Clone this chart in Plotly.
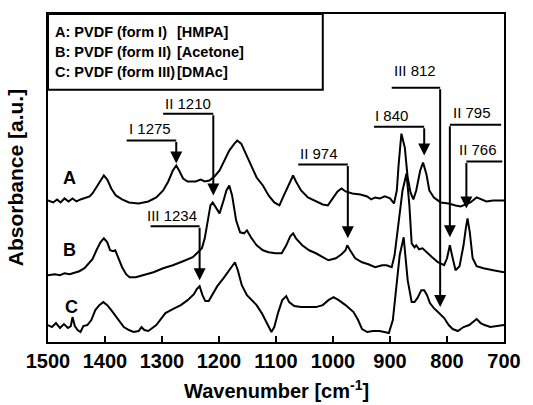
import plotly.graph_objects as go

# ---- spectra (wavenumber cm-1, absorbance in arbitrary offset units) ----
wn_A = [1500,1491,1484,1478,1471,1464,1457,1450,1443,1434,
        1427,1422,1415,1408,1402,1396,1389,1381,1370,1358,
        1341,1324,1310,1298,1289,1281,1275,1270,1263,1255,
        1241,1232,1225,1217,1208,1199,1191,1182,1173,1168,
        1161,1151,1141,1134,1123,1113,1103,1094,1087,1078,
        1070,1065,1056,1044,1030,1018,1009,1001,992,985,
        978,966,952,940,933,926,918,909,900,893,
        888,885,880,874,869,864,859,854,847,842,
        836,831,823,811,797,785,776,767,759,748,
        740,731,719,700]
abs_A = [142,140,143,140,144,141,144,141,143,145,
         146,149,155,162,167,163,154,147,143,140,
         139,141,145,152,161,172,177,172,164,161,
         161,163,161,162,166,172,182,192,199,202,
         199,187,174,165,157,147,140,137,146,158,
         167,161,152,145,141,138,137,144,151,154,
         151,149,148,146,143,145,144,146,144,139,
         152,177,209,195,165,150,143,152,172,180,
         168,152,145,140,139,137,136,138,140,145,
         143,141,142,142]

wn_B = [1500,1488,1479,1471,1462,1453,1445,1436,1427,1422,
        1415,1408,1402,1396,1391,1386,1382,1377,1370,1363,
        1357,1346,1332,1315,1298,1281,1263,1246,1237,1230,
        1225,1220,1215,1211,1206,1199,1192,1187,1182,1177,
        1170,1163,1156,1151,1144,1134,1123,1113,1101,1090,
        1082,1075,1070,1065,1054,1042,1030,1018,1008,995,
        985,978,975,970,961,949,938,926,914,906,
        897,892,885,878,871,866,862,857,854,849,
        843,836,826,816,805,800,795,790,785,778,
        771,767,764,760,755,748,736,719,700]
abs_B = [67,68,67,69,68,70,71,74,80,83,
         92,100,104,100,92,91,92,85,75,68,
         65,65,67,70,74,77,81,85,90,94,
         104,122,137,140,135,129,142,152,157,147,
         122,110,109,112,105,97,92,90,89,89,
         97,106,109,104,97,92,89,85,82,84,
         88,92,97,92,84,80,78,75,77,77,
         75,87,117,152,169,137,99,95,97,93,
         94,90,85,80,77,84,97,84,72,76,
         97,114,124,110,84,76,74,72,70]

wn_C = [1500,1493,1486,1479,1472,1465,1460,1457,1453,1448,
        1443,1438,1431,1424,1417,1410,1403,1396,1389,1381,
        1374,1367,1358,1350,1341,1336,1331,1324,1310,1294,
        1281,1267,1255,1244,1239,1234,1229,1224,1218,1211,
        1203,1192,1182,1175,1172,1167,1160,1151,1142,1134,
        1125,1116,1108,1103,1096,1089,1082,1077,1068,1056,
        1044,1030,1018,1008,999,990,978,964,956,949,
        940,930,918,909,902,895,888,883,876,869,
        862,857,852,845,840,835,830,823,814,805,
        797,790,781,771,761,755,748,741,734,724,
        710,700]
abs_C = [17,15,19,14,18,14,16,25,16,12,
         10,16,17,22,32,37,40,37,32,26,
         20,15,12,10,11,15,12,11,17,29,
         33,37,42,48,53,56,47,41,41,48,
         56,64,72,78,80,72,57,47,42,37,
         29,19,10,15,30,42,46,40,36,35,
         35,35,37,42,45,42,37,30,22,13,
         10,11,11,10,9,22,57,87,105,62,
         40,40,44,52,52,47,39,34,29,24,
         17,13,11,15,17,20,23,19,17,15,
         16,17]

curve_names = ["A", "B", "C"]
curve_label_wn = [1462, 1462, 1458]
curve_label_y = [165, 92, 35]

# ---- band assignments (arrow annotations) ----
ann_labels = ["I 1275", "II 1210", "III 1234", "II 974", "I 840", "III 812", "II 795", "II 766"]
ann_wn = [1275, 1210, 1234, 974, 840, 812, 795, 766]
ann_tip = [179, 147, 62, 104, 187, 35, 105, 134]
ann_line = [202, 229, 116, 178, 216, 255, 218, 181]
ann_end = [1362, 1298, 1320, 1061, 928, 897, 705, 703]
ann_text_wn = [1362, 1298, 1329, 1061, 930, 897, 793, 783]
ann_text_y = [214, 239, 127, 189, 227, 272, 230, 193]

legend_left = ["A: PVDF (form I)", "B: PVDF (form II)", "C: PVDF (form III)"]
legend_right = ["[HMPA]", "[Acetone]", "[DMAc]"]

x_ticks = [1500, 1400, 1300, 1200, 1100, 1000, 900, 800, 700]

FONT = "Liberation Sans, Arial, sans-serif"

fig = go.Figure()
for wn, ab in [(wn_A, abs_A), (wn_B, abs_B), (wn_C, abs_C)]:
    fig.add_trace(go.Scatter(x=wn, y=ab, mode="lines",
                             line=dict(color="black", width=2),
                             showlegend=False, hoverinfo="skip"))

annotations = []
shapes = []
for lab, w, tip, ly, end, tw, ty in zip(ann_labels, ann_wn, ann_tip, ann_line,
                                        ann_end, ann_text_wn, ann_text_y):
    shapes.append(dict(type="line", xref="x", yref="y", x0=end, x1=w, y0=ly, y1=ly,
                       line=dict(color="black", width=2)))
    annotations.append(dict(x=w, y=tip, ax=w, ay=ly, axref="x", ayref="y",
                            xref="x", yref="y", text="", showarrow=True,
                            arrowhead=2, arrowsize=1.2, arrowwidth=2,
                            arrowcolor="black", standoff=0))
    annotations.append(dict(x=tw, y=ty, xref="x", yref="y", text=lab,
                            showarrow=False, xanchor="left", yanchor="middle",
                            font=dict(family=FONT, size=15, color="black")))

for nm, cx, cy in zip(curve_names, curve_label_wn, curve_label_y):
    annotations.append(dict(x=cx, y=cy, xref="x", yref="y", text=nm,
                            showarrow=False, xanchor="center", yanchor="middle",
                            font=dict(family=FONT, size=18, color="black", weight="bold")))

# legend box
shapes.append(dict(type="rect", xref="paper", yref="paper", x0=0, x1=0.6026,
                   y0=0.769, y1=1, line=dict(color="black", width=2),
                   fillcolor="white", layer="above"))
leg_y = [0.945, 0.8845, 0.8237]
for l, r, yy in zip(legend_left, legend_right, leg_y):
    annotations.append(dict(x=0.012, y=yy, xref="paper", yref="paper", text=l,
                            showarrow=False, xanchor="left", yanchor="middle",
                            font=dict(family=FONT, size=14.5, color="black", weight="bold")))
    annotations.append(dict(x=0.2786, y=yy, xref="paper", yref="paper", text=r,
                            showarrow=False, xanchor="left", yanchor="middle",
                            font=dict(family=FONT, size=14.5, color="black", weight="bold")))

# axis titles
annotations.append(dict(x=0.5, y=-0.146, xref="paper", yref="paper",
                        text="Wavenumber [cm<sup>-1</sup>]", showarrow=False,
                        xanchor="center", yanchor="middle",
                        font=dict(family=FONT, size=20, color="black", weight="bold")))
annotations.append(dict(x=-0.072, y=0.5, xref="paper", yref="paper",
                        text="Absorbance [a.u.]", showarrow=False, textangle=-90,
                        xanchor="center", yanchor="middle",
                        font=dict(family=FONT, size=21, color="black", weight="bold")))

fig.update_layout(
    width=533, height=405,
    margin=dict(l=48, r=22, t=13, b=63),
    plot_bgcolor="white", paper_bgcolor="white",
    shapes=shapes, annotations=annotations,
    xaxis=dict(range=[1500, 700], tickvals=x_ticks,
               ticktext=[str(t) for t in x_ticks],
               ticks="inside", ticklen=6, tickwidth=2, tickcolor="black",
               showline=True, linecolor="black", linewidth=2, mirror=True,
               showgrid=False, zeroline=False,
               tickfont=dict(family=FONT, size=20, color="black", weight="bold")),
    yaxis=dict(range=[0, 329], showticklabels=False, ticks="",
               showline=True, linecolor="black", linewidth=2, mirror=True,
               showgrid=False, zeroline=False),
)

fig.write_html("out.html")
